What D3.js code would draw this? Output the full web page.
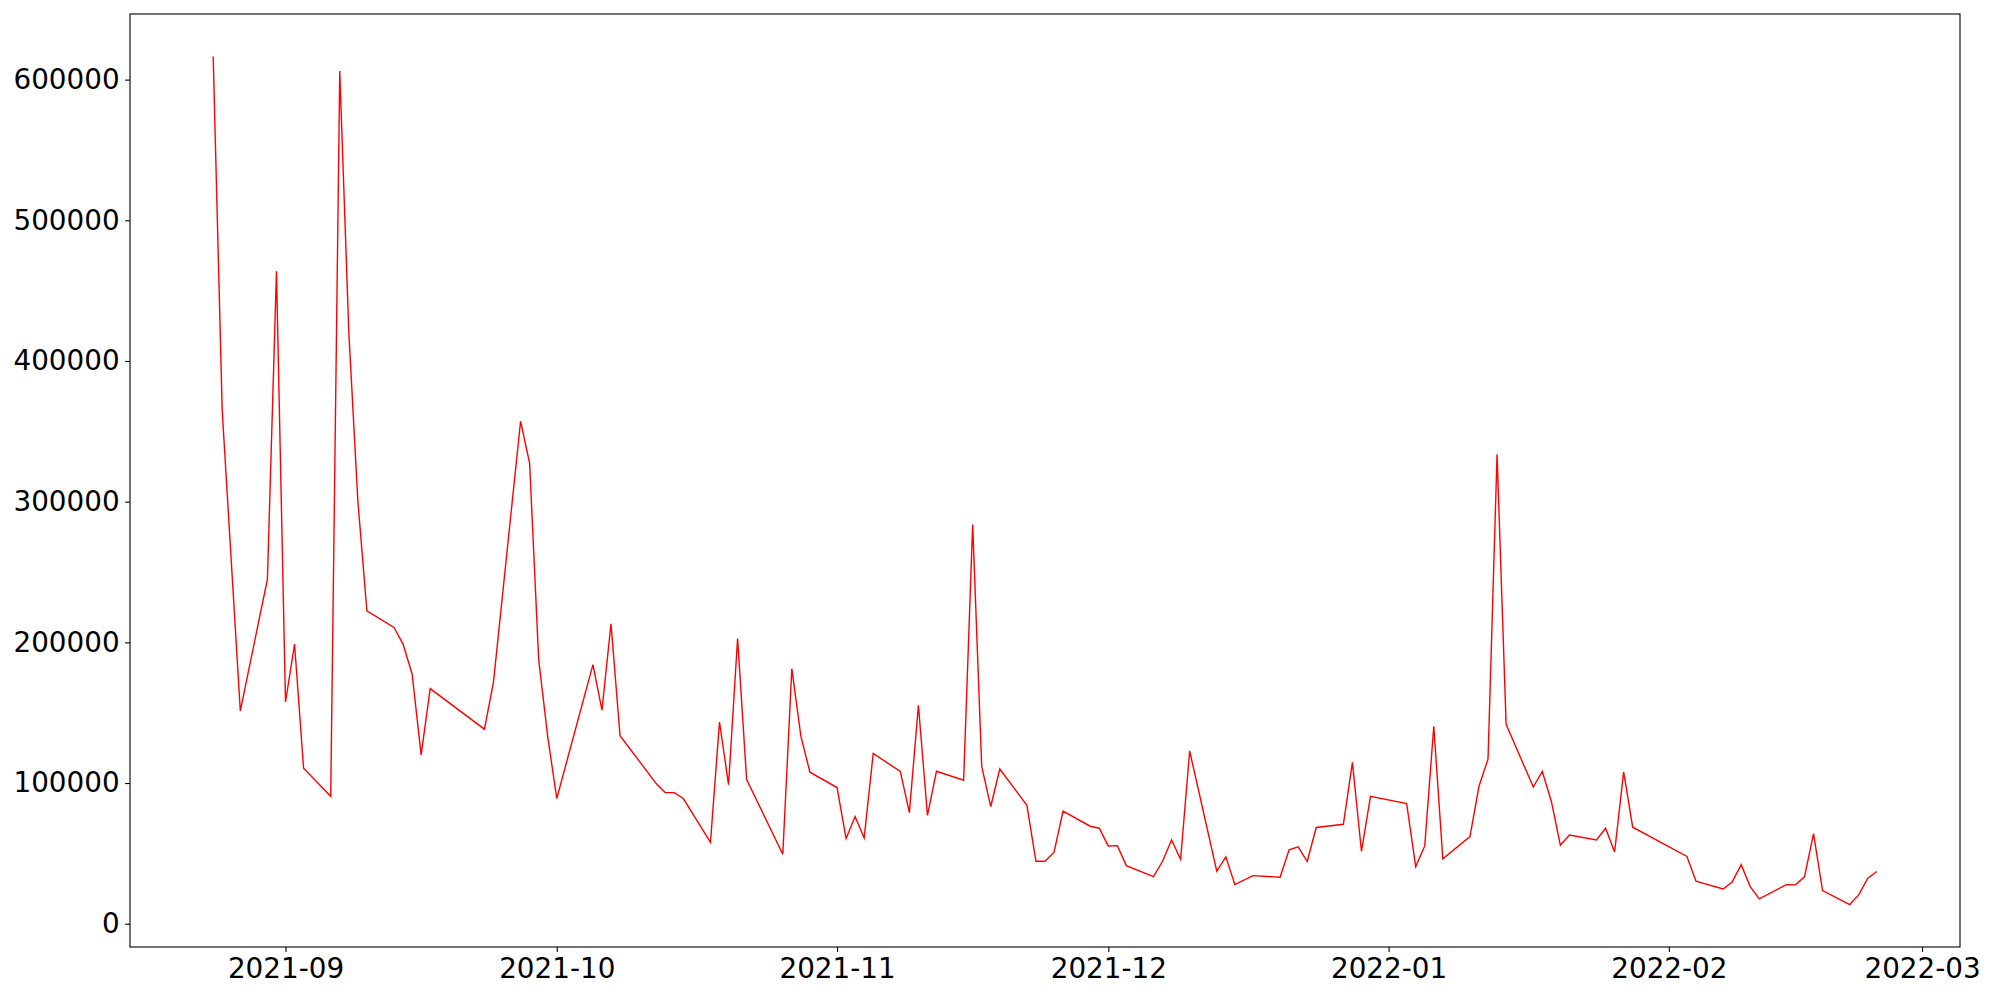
<!DOCTYPE html>
<html>
<head>
<meta charset="utf-8">
<script src="https://cdn.jsdelivr.net/npm/d3@7"></script>
<style>
  html, body { margin: 0; padding: 0; background: #fff; overflow: hidden; }
  svg { display: block; }
  .axis text { font-family: "DejaVu Sans", sans-serif; font-size: 27.8px; fill: #000; }
  .axis line, .axis path { stroke: #000; stroke-width: 1.1px; }
</style>
</head>
<body>
<div id="chart"></div>
<script>
// daily values (gaps are days with no data)
const dates = [
  "2021-08-24", "2021-08-25", "2021-08-27", "2021-08-30", "2021-08-31",
  "2021-09-01", "2021-09-02", "2021-09-03", "2021-09-06", "2021-09-07",
  "2021-09-08", "2021-09-09", "2021-09-10", "2021-09-13", "2021-09-14",
  "2021-09-15", "2021-09-16", "2021-09-17", "2021-09-23", "2021-09-24",
  "2021-09-27", "2021-09-28", "2021-09-29", "2021-09-30", "2021-10-01",
  "2021-10-05", "2021-10-06", "2021-10-07", "2021-10-08", "2021-10-12",
  "2021-10-13", "2021-10-14", "2021-10-15", "2021-10-18", "2021-10-19",
  "2021-10-20", "2021-10-21", "2021-10-22", "2021-10-26", "2021-10-27",
  "2021-10-28", "2021-10-29", "2021-11-01", "2021-11-02", "2021-11-03",
  "2021-11-04", "2021-11-05", "2021-11-08", "2021-11-09", "2021-11-10",
  "2021-11-11", "2021-11-12", "2021-11-15", "2021-11-16", "2021-11-17",
  "2021-11-18", "2021-11-19", "2021-11-22", "2021-11-23", "2021-11-24",
  "2021-11-25", "2021-11-26", "2021-11-29", "2021-11-30", "2021-12-01",
  "2021-12-02", "2021-12-03", "2021-12-06", "2021-12-07", "2021-12-08",
  "2021-12-09", "2021-12-10", "2021-12-13", "2021-12-14", "2021-12-15",
  "2021-12-17", "2021-12-20", "2021-12-21", "2021-12-22", "2021-12-23",
  "2021-12-24", "2021-12-27", "2021-12-28", "2021-12-29", "2021-12-30",
  "2022-01-03", "2022-01-04", "2022-01-05", "2022-01-06", "2022-01-07",
  "2022-01-10", "2022-01-11", "2022-01-12", "2022-01-13", "2022-01-14",
  "2022-01-17", "2022-01-18", "2022-01-19", "2022-01-20", "2022-01-21",
  "2022-01-24", "2022-01-25", "2022-01-26", "2022-01-27", "2022-01-28",
  "2022-02-03", "2022-02-04", "2022-02-07", "2022-02-08", "2022-02-09",
  "2022-02-10", "2022-02-11", "2022-02-14", "2022-02-15", "2022-02-16",
  "2022-02-17", "2022-02-18", "2022-02-21", "2022-02-22", "2022-02-23",
  "2022-02-24"
];
const values = [
  616500, 364500, 151300, 245000, 463700,
  157600, 198800, 110500, 90600, 606100,
  420700, 300700, 222400, 210600, 198800,
  177500, 120000, 167100, 138300, 171800,
  357200, 327200, 187800, 133000, 89000,
  184200, 151800, 213200, 133700, 99600,
  93200, 93200, 89000, 57900, 143400,
  98900, 202700, 102500, 49400, 181300,
  133300, 107700, 96800, 60500, 76200,
  61000, 121000, 108300, 79000, 155300,
  77000, 108400, 102000, 283700, 111900,
  83300, 110000, 84200, 44400, 44400,
  50800, 80000, 69300, 67900, 55300,
  55500, 41300, 33500, 44400, 59600,
  45800, 122800, 37300, 47500, 27800,
  34200, 33000, 52500, 54600, 44200,
  68400, 70700, 114700, 51500, 90600,
  85400, 40600, 55300, 140400, 46100,
  62000, 97700, 117100, 333700, 141800,
  97200, 108200, 87100, 55800, 63100,
  59600, 67900, 51000, 107900, 68600,
  47800, 30200, 24700, 29700, 42000,
  26400, 17600, 27800, 27600, 33300,
  64100, 23600, 13600, 20500, 32300,
  37100
];
const yTicks = [0, 100000, 200000, 300000, 400000, 500000, 600000];

const width = 2000;
const height = 1000;
const margin = { top: 14, right: 40, bottom: 53, left: 130 };

const parse = d3.timeParse("%Y-%m-%d");
const data = dates.map((d, i) => ({ date: parse(d), value: values[i] }));

const svg = d3.select("#chart")
  .append("svg")
  .attr("width", width)
  .attr("height", height);

// matplotlib-style 5% margins around the data
const xExt = d3.extent(data, (d) => d.date);
const xPad = (xExt[1] - xExt[0]) * 0.05;
const yExt = d3.extent(data, (d) => d.value);
const yPad = (yExt[1] - yExt[0]) * 0.05;

const x = d3.scaleTime()
  .domain([new Date(+xExt[0] - xPad), new Date(+xExt[1] + xPad)])
  .range([margin.left, width - margin.right]);

const y = d3.scaleLinear()
  .domain([yExt[0] - yPad, yExt[1] + yPad])
  .range([height - margin.bottom, margin.top]);

const xAxis = svg.append("g")
  .attr("class", "axis x")
  .attr("transform", "translate(0," + (height - margin.bottom) + ")")
  .call(d3.axisBottom(x)
    .ticks(d3.timeMonth.every(1))
    .tickFormat(d3.timeFormat("%Y-%m"))
    .tickSize(4.9)
    .tickSizeOuter(0)
    .tickPadding(6));
xAxis.select(".domain").remove();

const yAxis = svg.append("g")
  .attr("class", "axis y")
  .attr("transform", "translate(" + margin.left + ",0)")
  .call(d3.axisLeft(y)
    .tickValues(yTicks)
    .tickFormat(d3.format("d"))
    .tickSize(4.9)
    .tickSizeOuter(0)
    .tickPadding(5.5));
yAxis.select(".domain").remove();

// frame
svg.append("rect")
  .attr("x", margin.left)
  .attr("y", margin.top)
  .attr("width", width - margin.left - margin.right)
  .attr("height", height - margin.top - margin.bottom)
  .attr("fill", "none")
  .attr("stroke", "#000")
  .attr("stroke-width", 1.1);

const line = d3.line()
  .x((d) => x(d.date))
  .y((d) => y(d.value));

svg.append("path")
  .datum(data)
  .attr("fill", "none")
  .attr("stroke", "#ff0000")
  .attr("stroke-width", 1.4)
  .attr("stroke-linejoin", "miter")
  .attr("d", line);
</script>
</body>
</html>
